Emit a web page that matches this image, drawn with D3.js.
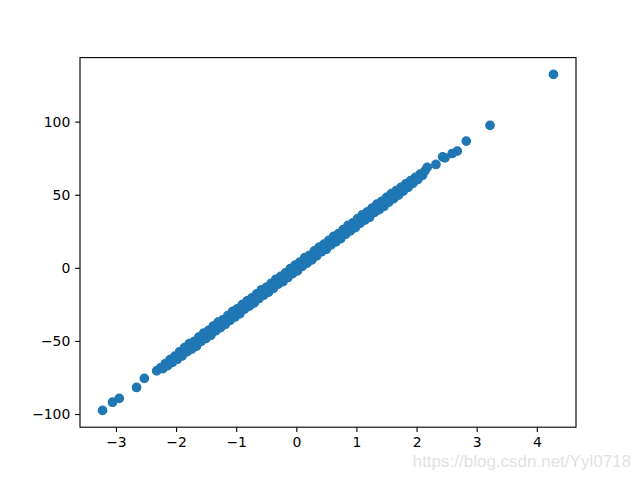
<!DOCTYPE html>
<html>
<head>
<meta charset="utf-8">
<script src="https://cdn.jsdelivr.net/npm/d3@7"></script>
<style>
  html, body { margin: 0; padding: 0; background: #fff; }
  svg { display: block; }
</style>
</head>
<body>
<svg id="chart" width="640" height="480"></svg>
<script>
// Data (x, y pairs)
const xTail = [-3.223, -3.057, -2.945, -2.657, -2.528, -2.323];
const yTail = [-97.5, -91.9, -89.3, -81.8, -75.6, -70.5];

const xBand = [
  -2.26, -2.22, -2.18, -2.14, -2.10, -2.06, -2.02, -1.98, -1.94, -1.90,
  -1.86, -1.82, -1.78, -1.74, -1.70, -1.66, -1.62, -1.58, -1.54, -1.50,
  -1.46, -1.42, -1.38, -1.34, -1.30, -1.26, -1.22, -1.18, -1.14, -1.10,
  -1.06, -1.02, -0.98, -0.94, -0.90, -0.86, -0.82, -0.78, -0.74, -0.70,
  -0.66, -0.62, -0.58, -0.54, -0.50, -0.46, -0.42, -0.38, -0.34, -0.30,
  -0.26, -0.22, -0.18, -0.14, -0.10, -0.06, -0.02, 0.02, 0.06, 0.10,
  0.14, 0.18, 0.22, 0.26, 0.30, 0.34, 0.38, 0.42, 0.46, 0.50,
  0.54, 0.58, 0.62, 0.66, 0.70, 0.74, 0.78, 0.82, 0.86, 0.90,
  0.94, 0.98, 1.02, 1.06, 1.10, 1.14, 1.18, 1.22, 1.26, 1.30,
  1.34, 1.38, 1.42, 1.46, 1.50, 1.54, 1.58, 1.62, 1.66, 1.70,
  1.74, 1.78, 1.82, 1.86, 1.90, 1.94, 1.98, 2.02, 2.06, 2.10, 2.14
];
const yBand = [
  -68.4, -68.9, -65.5, -66.8, -62.8, -64.6, -60.4, -62.5, -57.4, -60.3,
  -54.6, -57.5, -51.9, -55.6, -50.3, -53.5, -47.3, -50.2, -44.6, -48.2,
  -42.8, -46.1, -39.8, -43.0, -37.1, -40.9, -35.5, -38.6, -32.7, -35.8,
  -29.8, -33.6, -28.0, -31.5, -25.2, -28.2, -22.6, -26.2, -20.5, -24.0,
  -17.8, -21.0, -15.0, -18.7, -13.4, -16.6, -10.6, -14.0, -7.8, -11.1,
  -5.8, -9.4, -3.5, -6.6, -0.6, -3.9, 1.8, -2.0, 4.0, 1.1,
  7.0, 3.2, 8.6, 5.5, 11.6, 8.2, 14.2, 11.0, 16.2, 12.6,
  18.8, 15.7, 21.5, 17.8, 23.4, 20.0, 26.2, 23.0, 29.0, 25.3,
  30.7, 27.5, 33.6, 30.4, 36.3, 32.6, 38.2, 34.6, 40.8, 37.9,
  43.5, 39.8, 45.5, 42.1, 48.2, 45.0, 50.7, 47.4, 52.8, 49.7,
  55.0, 52.5, 57.4, 55.1, 59.6, 57.8, 61.9, 60.4, 64.1, 63.3, 66.3
];

const xHead = [2.177, 2.322, 2.433, 2.472, 2.593, 2.677, 2.827, 3.222, 4.277];
const yHead = [68.7, 70.7, 75.9, 75.2, 78.2, 79.8, 86.7, 97.4, 132.3];

const xTicks = [-3, -2, -1, 0, 1, 2, 3, 4];
const yTicks = [-100, -50, 0, 50, 100];

const xs = xTail.concat(xBand, xHead);
const ys = yTail.concat(yBand, yHead);
const points = xs.map((x, i) => ({ x: x, y: ys[i] }));

const W = 640, H = 480;
const mLeft = 80, mRight = 576, mTop = 57.6, mBottom = 427.2;

function padded(ext) {
  const m = (ext[1] - ext[0]) * 0.05;
  return [ext[0] - m, ext[1] + m];
}

const xScale = d3.scaleLinear().domain(padded(d3.extent(xs))).range([mLeft, mRight]);
const yScale = d3.scaleLinear().domain(padded(d3.extent(ys))).range([mBottom, mTop]);

const svg = d3.select("#chart");
svg.append("rect").attr("width", W).attr("height", H).attr("fill", "#fff");

const fmt = d3.format("d");

svg.append("g")
  .selectAll("circle")
  .data(points)
  .join("circle")
  .attr("cx", d => xScale(d.x))
  .attr("cy", d => yScale(d.y))
  .attr("r", 4.17)
  .attr("fill", "#1f77b4")
  .attr("stroke", "#1f77b4")
  .attr("stroke-width", 1.39);

const xAxis = d3.axisBottom(xScale).tickValues(xTicks).tickFormat(fmt).tickSizeOuter(0).tickSize(4.86).tickPadding(4.86);
const yAxis = d3.axisLeft(yScale).tickValues(yTicks).tickFormat(fmt).tickSizeOuter(0).tickSize(4.86).tickPadding(4.86);

const gx = svg.append("g").attr("transform", `translate(0,${mBottom})`).call(xAxis);
const gy = svg.append("g").attr("transform", `translate(${mLeft},0)`).call(yAxis);

[gx, gy].forEach(g => {
  g.select(".domain").remove();
  g.selectAll(".tick line").attr("stroke", "#000").attr("stroke-width", 1.11);
  g.selectAll(".tick text")
    .attr("fill", "#000")
    .style("font-family", "'DejaVu Sans', sans-serif")
    .style("font-size", "13.9px");
});

// frame (spines)
svg.append("rect")
  .attr("x", mLeft).attr("y", mTop)
  .attr("width", mRight - mLeft).attr("height", mBottom - mTop)
  .attr("fill", "none").attr("stroke", "#000").attr("stroke-width", 1.11);

// watermark
svg.append("text")
  .attr("x", 631).attr("y", 467)
  .attr("text-anchor", "end")
  .style("font-family", "'Liberation Sans', Arial, sans-serif")
  .style("font-size", "17px")
  .attr("fill", "#e2e2e2")
  .text("https://blog.csdn.net/Yyl0718");
</script>
</body>
</html>
